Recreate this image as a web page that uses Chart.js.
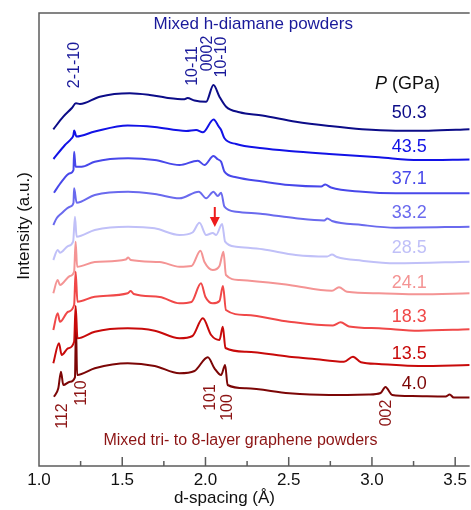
<!DOCTYPE html>
<html>
<head>
<meta charset="utf-8">
<script src="https://cdn.jsdelivr.net/npm/chart.js@4.4.1/dist/chart.umd.min.js"></script>
<style>
  html, body { margin: 0; padding: 0; background: #fff; }
  #wrap { width: 471px; height: 510px; }
</style>
</head>
<body>
<div id="wrap"><canvas id="xrdChart" width="471" height="510"></canvas></div>
<script>
// Stacked diffraction traces: [d-spacing (Å), intensity (a.u., offset)]
const pressureLabels = ['50.3', '43.5', '37.1', '33.2', '28.5', '24.1', '18.3', '13.5', '4.0'];

const trace50_3 = [
  [1.086, 336.7], [1.146, 349.3], [1.196, 357.7], [1.222, 362.7], [1.246, 362], [1.365, 369.3],
  [1.545, 372.7], [1.665, 371], [1.765, 368.3], [1.874, 366.7], [1.892, 368], [1.934, 365.5],
  [2.004, 364.3], [2.048, 381], [2.084, 369.3], [2.124, 359.3], [2.204, 353.7], [2.341, 350.5],
  [2.543, 344.3], [2.743, 340], [2.940, 336.7], [3.142, 335.3], [3.341, 335.3], [3.587, 336.7]
];
const trace43_5 = [
  [1.087, 307], [1.156, 321], [1.195, 327.5], [1.207, 331], [1.211, 335.5], [1.225, 329.5],
  [1.335, 334.5], [1.533, 340.5], [1.695, 339], [1.884, 335], [1.944, 336], [1.984, 333.7],
  [2.049, 346.5], [2.080, 339.3], [2.094, 336], [2.114, 327.7], [2.184, 322], [2.343, 317.7],
  [2.503, 315], [2.743, 312], [3.042, 308.7], [3.281, 306], [3.587, 306.5]
];
const trace37_1 = [
  [1.090, 273.3], [1.136, 284.3], [1.186, 292.7], [1.207, 296], [1.211, 314.3], [1.220, 299.3],
  [1.256, 299.3], [1.335, 304.3], [1.535, 307.7], [1.695, 306], [1.844, 301], [1.954, 305.3],
  [1.994, 301], [2.048, 310], [2.074, 306.7], [2.094, 304.3], [2.114, 294.3], [2.184, 288.7],
  [2.343, 284.5], [2.503, 281], [2.695, 279.5], [2.719, 281.5], [2.754, 278.5], [2.942, 274.3],
  [3.142, 272.7], [3.587, 272.7]
];
const trace33_2 = [
  [1.086, 241], [1.106, 247.7], [1.136, 252.7], [1.186, 259.3], [1.207, 263], [1.211, 277.7],
  [1.226, 263.3], [1.335, 271], [1.535, 274.3], [1.695, 272], [1.844, 267.7], [1.960, 274.3],
  [2.004, 267.7], [2.048, 274.3], [2.074, 270], [2.094, 273.3], [2.114, 259.3], [2.184, 254.3],
  [2.343, 252], [2.543, 247.7], [2.713, 245.5], [2.732, 247.5], [2.760, 245], [2.940, 241],
  [3.142, 238.3], [3.587, 239.3]
];
const trace28_5 = [
  [1.086, 206], [1.112, 216], [1.126, 213.3], [1.175, 220], [1.205, 224.3], [1.216, 249.3],
  [1.226, 229.3], [1.335, 236], [1.535, 239.3], [1.695, 237.7], [1.844, 231], [1.922, 233.5],
  [1.964, 243.3], [2.004, 231], [2.044, 233], [2.064, 231], [2.100, 242], [2.118, 224.3],
  [2.184, 219.3], [2.343, 216.7], [2.543, 211], [2.731, 209.5], [2.760, 211.5], [2.790, 209],
  [2.940, 205.3], [3.142, 202.7], [3.587, 204.3]
];
const trace24_1 = [
  [1.086, 172.7], [1.112, 186], [1.126, 181], [1.186, 190], [1.211, 194.3], [1.220, 224.3],
  [1.229, 199.3], [1.335, 204], [1.521, 206.5], [1.536, 208.5], [1.551, 206], [1.725, 204],
  [1.844, 199.3], [1.916, 200], [1.970, 215.3], [1.994, 204], [2.044, 196], [2.084, 200],
  [2.108, 214.3], [2.123, 191], [2.204, 186], [2.503, 181], [2.760, 175.3], [2.802, 178.7],
  [2.850, 174.3], [3.042, 172.7], [3.281, 171.7], [3.587, 172.7]
];
const trace18_3 = [
  [1.086, 136], [1.112, 152.7], [1.126, 144.3], [1.175, 154.3], [1.211, 161], [1.220, 194.3],
  [1.231, 164.3], [1.335, 169.3], [1.533, 172.7], [1.551, 175], [1.569, 172], [1.725, 169],
  [1.844, 162.7], [1.916, 164], [1.973, 182.7], [2.000, 169], [2.044, 162.7], [2.084, 165],
  [2.105, 180], [2.123, 156], [2.244, 151], [2.503, 144.3], [2.766, 140.5], [2.812, 143.7],
  [2.862, 139.5], [3.042, 137.7], [3.281, 135.3], [3.587, 136.7]
];
const trace13_5 = [
  [1.086, 102.7], [1.120, 122.7], [1.136, 111], [1.175, 117.7], [1.211, 124.3], [1.220, 160],
  [1.231, 127.7], [1.335, 134.3], [1.533, 137.7], [1.695, 135.3], [1.844, 127.7], [1.922, 130],
  [1.984, 147.7], [2.034, 131], [2.084, 126], [2.104, 139.3], [2.120, 118], [2.244, 114.3],
  [2.503, 109.3], [2.641, 107.3], [2.832, 104.3], [2.886, 109.3], [2.934, 103.7], [3.042, 102],
  [3.281, 100], [3.587, 101]
];
const trace4_0 = [
  [1.090, 69.3], [1.116, 77.7], [1.132, 94.3], [1.146, 81], [1.186, 84.3], [1.216, 88.7],
  [1.222, 141], [1.229, 91], [1.335, 97.7], [1.533, 102.7], [1.695, 100], [1.844, 92.7],
  [1.934, 95], [2.014, 108.7], [2.054, 97.7], [2.094, 91], [2.118, 101], [2.133, 81],
  [2.244, 77.7], [2.503, 72.7], [2.743, 71], [2.982, 71.5], [3.052, 73], [3.081, 79],
  [3.122, 71], [3.242, 70], [3.443, 69.5], [3.467, 71.5], [3.491, 68.5], [3.587, 68.5]
];

const traces = [trace50_3, trace43_5, trace37_1, trace33_2, trace28_5, trace24_1, trace18_3, trace13_5, trace4_0];
const xTickValues = [1.0, 1.5, 2.0, 2.5, 3.0, 3.5];
const xMinorTicks = [1.25, 1.75, 2.25, 2.75, 3.25];

const lineColors = ['#0c0c88', '#1212e6', '#4848ea', '#6a6aee', '#c0c0f8', '#f49494', '#f04848', '#c80a0a', '#7c0606'];
const FONT = 'Liberation Sans, Arial, sans-serif';

// where the text annotations sit, in data units
const pressureLabelAt = { d: 3.329, i: [353, 319.3, 287, 252.7, 217.7, 182.7, 149.3, 112, 82] };
const hdLabels = [
  { text: '2-1-10', d: 1.216, i: 401 },
  { text: '10-11', d: 1.922, i: 400 },
  { text: '0002', d: 2.011, i: 412.5 },
  { text: '10-10', d: 2.098, i: 409 }
];
const graphiteLabels = [
  { text: '112', d: 1.144, i: 50 },
  { text: '110', d: 1.256, i: 73 },
  { text: '101', d: 2.030, i: 68.5 },
  { text: '100', d: 2.132, i: 58.5 },
  { text: '002', d: 3.087, i: 53 }
];

const overlay = {
  id: 'overlay',
  afterDatasetsDraw(chart) {
    const { ctx, chartArea: a, scales: { x, y } } = chart;
    ctx.save();

    // frame (left, top, bottom) + inward ticks
    ctx.strokeStyle = '#5c5c5c';
    ctx.lineWidth = 1.5;
    ctx.beginPath();
    ctx.moveTo(a.right, a.top);
    ctx.lineTo(a.left, a.top);
    ctx.lineTo(a.left, a.bottom);
    ctx.lineTo(a.right, a.bottom);
    xTickValues.forEach(v => { const px = x.getPixelForValue(v); ctx.moveTo(px, a.bottom); ctx.lineTo(px, a.bottom - 9); });
    xMinorTicks.forEach(v => { const px = x.getPixelForValue(v); ctx.moveTo(px, a.bottom); ctx.lineTo(px, a.bottom - 5); });
    ctx.stroke();

    ctx.textAlign = 'center';
    ctx.textBaseline = 'middle';

    // axis titles
    ctx.fillStyle = '#111';
    ctx.font = `17px ${FONT}`;
    ctx.fillText('d-spacing (Å)', x.getPixelForValue(2.114), 498);
    ctx.save();
    ctx.translate(24, y.getPixelForValue(240));
    ctx.rotate(-Math.PI / 2);
    ctx.fillText('Intensity (a.u.)', 0, 0);
    ctx.restore();

    // group captions
    ctx.fillStyle = '#1a1a9a';
    ctx.font = `17px ${FONT}`;
    ctx.fillText('Mixed h-diamane powders', x.getPixelForValue(2.287), y.getPixelForValue(441.5));
    ctx.fillStyle = '#8c1414';
    ctx.font = `16px ${FONT}`;
    ctx.fillText('Mixed tri- to 8-layer graphene powders', x.getPixelForValue(2.21), y.getPixelForValue(25));

    // rotated peak indices
    const rotated = (list, color) => {
      ctx.fillStyle = color;
      ctx.font = `16px ${FONT}`;
      list.forEach(l => {
        ctx.save();
        ctx.translate(x.getPixelForValue(l.d), y.getPixelForValue(l.i));
        ctx.rotate(-Math.PI / 2);
        ctx.fillText(l.text, 0, 0);
        ctx.restore();
      });
    };
    rotated(hdLabels, '#1a1a9a');
    rotated(graphiteLabels, '#8c1414');

    // pressure column
    ctx.font = `18px ${FONT}`;
    ctx.textAlign = 'right';
    const px = x.getPixelForValue(pressureLabelAt.d);
    pressureLabels.forEach((p, k) => {
      ctx.fillStyle = lineColors[k];
      ctx.fillText(p, px, y.getPixelForValue(pressureLabelAt.i[k]));
    });
    ctx.fillStyle = '#111';
    ctx.textAlign = 'left';
    const hy = y.getPixelForValue(382);
    const hx = x.getPixelForValue(3.018);
    ctx.font = `italic 18px ${FONT}`;
    ctx.fillText('P', hx, hy);
    const pw = ctx.measureText('P').width;
    ctx.font = `18px ${FONT}`;
    ctx.fillText(' (GPa)', hx + pw, hy);

    // red arrow marking the emerging peak
    const ax = x.getPixelForValue(2.056);
    const aTop = y.getPixelForValue(259), aTip = y.getPixelForValue(239);
    ctx.strokeStyle = '#ee1c1c';
    ctx.fillStyle = '#ee1c1c';
    ctx.lineWidth = 2;
    ctx.beginPath();
    ctx.moveTo(ax, aTop);
    ctx.lineTo(ax, aTip - 8);
    ctx.stroke();
    ctx.beginPath();
    ctx.moveTo(ax - 5, aTip - 10);
    ctx.lineTo(ax + 5, aTip - 10);
    ctx.lineTo(ax, aTip);
    ctx.closePath();
    ctx.fill();

    ctx.restore();
  }
};

new Chart(document.getElementById('xrdChart'), {
  type: 'line',
  data: {
    datasets: traces.map((t, k) => ({
      label: pressureLabels[k],
      data: t.map(([d, v]) => ({ x: d, y: v })),
      borderColor: lineColors[k],
      borderWidth: 2,
      pointRadius: 0,
      fill: false,
      cubicInterpolationMode: 'monotone'
    }))
  },
  options: {
    responsive: false,
    animation: false,
    layout: { padding: { left: 39, top: 13, right: 0, bottom: 0 } },
    plugins: { legend: { display: false }, tooltip: { enabled: false } },
    scales: {
      x: {
        type: 'linear',
        min: 1.0,
        max: 3.587,
        grid: { display: false, drawTicks: false },
        border: { display: false },
        afterBuildTicks: s => { s.ticks = xTickValues.map(v => ({ value: v })); },
        afterFit: s => { s.height = 44; },
        ticks: {
          color: '#111',
          padding: 4,
          maxRotation: 0,
          autoSkip: false,
          font: { family: FONT, size: 17 },
          callback: v => Number(v).toFixed(1)
        }
      },
      y: { display: false, min: 0, max: 453 }
    }
  },
  plugins: [overlay]
});
</script>
</body>
</html>
